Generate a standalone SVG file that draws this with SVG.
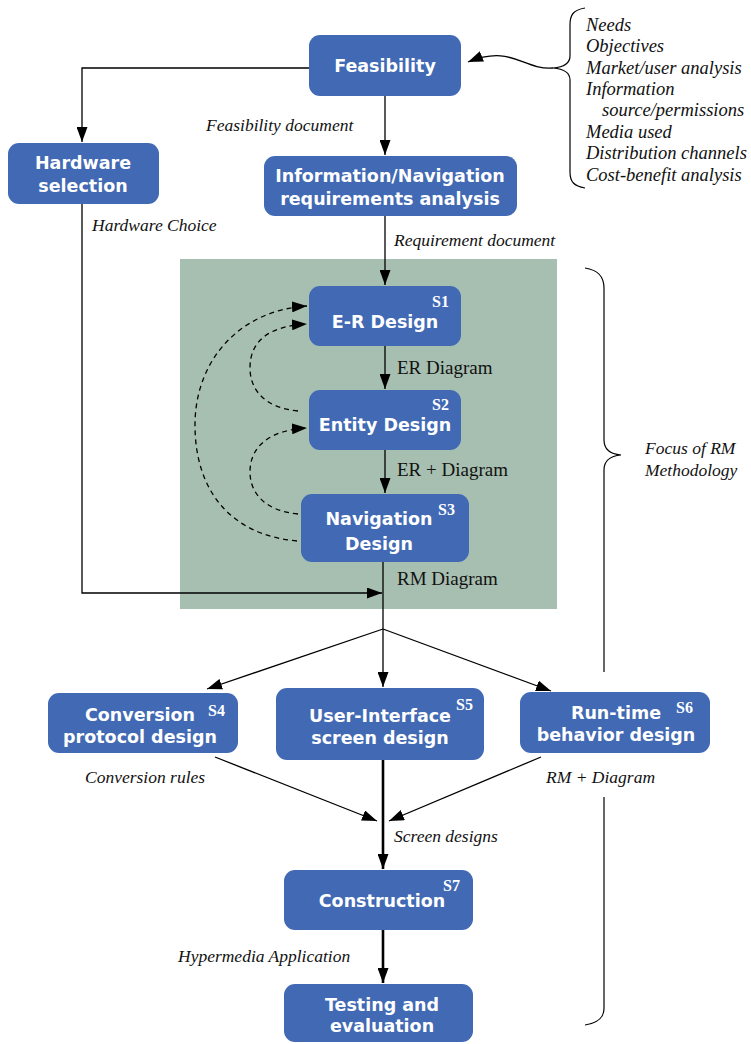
<svg xmlns="http://www.w3.org/2000/svg" width="751" height="1044" viewBox="0 0 751 1044">
  <defs>
    <marker id="arrow" markerUnits="userSpaceOnUse" markerWidth="15" markerHeight="11" refX="15" refY="5.5" orient="auto">
      <path d="M0,0 L15,5.5 L0,11 z" fill="#000"/>
    </marker>
    <style>
      .box { fill: #4169B4; }
      .bt { font-family: "DejaVu Sans", Verdana, sans-serif; font-weight: bold; font-size: 17.5px; fill: #fff; text-anchor: middle; }
      .st { font-family: "Liberation Serif", "Times New Roman", serif; font-weight: bold; font-size: 16px; fill: #fff; }
      .it { font-family: "Liberation Serif", "Times New Roman", serif; font-style: italic; font-size: 17.5px; fill: #111; }
      .lst { font-size: 18.5px; }
      .up { font-family: "Liberation Serif", "Times New Roman", serif; font-size: 19px; fill: #111; }
      .ln { fill: none; stroke: #000; stroke-width: 1.3; }
      .thick { fill: none; stroke: #000; stroke-width: 2.6; }
      .dash { fill: none; stroke: #000; stroke-width: 1.3; stroke-dasharray: 5 4; }
      .brace { fill: none; stroke: #000; stroke-width: 1.2; }
    </style>
  </defs>

  <rect x="0" y="0" width="751" height="1044" fill="#fff"/>

  <!-- RM methodology area -->
  <rect x="180" y="259" width="377" height="350" fill="#A7BFB0"/>

  <!-- connectors -->
  <g id="connectors">
    <path class="ln" d="M385,96 L385,155" marker-end="url(#arrow)"/>
    <path class="ln" d="M309,68 L82,68 L82,142" marker-end="url(#arrow)"/>
    <path class="ln" d="M82,204 L82,593 L382,593" marker-end="url(#arrow)"/>
    <path class="ln" d="M385,216 L385,285" marker-end="url(#arrow)"/>
    <path class="ln" d="M385,346 L385,389" marker-end="url(#arrow)"/>
    <path class="ln" d="M385,450 L385,493" marker-end="url(#arrow)"/>
    <path class="ln" d="M383,562 L383,629"/>
    <path class="ln" d="M383,629 L207,689" marker-end="url(#arrow)"/>
    <path class="ln" d="M383,629 L383,687" marker-end="url(#arrow)"/>
    <path class="ln" d="M383,629 L551,691" marker-end="url(#arrow)"/>
    <path class="ln" d="M215,757 L377,821" marker-end="url(#arrow)"/>
    <path class="ln" d="M541,757 L389,821" marker-end="url(#arrow)"/>
    <path class="thick" d="M383,760 L383,869" marker-end="url(#arrow)"/>
    <path class="thick" d="M383,930 L383,983" marker-end="url(#arrow)"/>
    <!-- feedback loops -->
    <path class="dash" d="M297,541 C230,535 195,490 195,425 C195,360 240,310 307,306" marker-end="url(#arrow)"/>
    <path class="dash" d="M298,411 C265,408 250,390 250,368 C250,340 270,326 307,324" marker-end="url(#arrow)"/>
    <path class="dash" d="M298,514 C265,511 250,493 250,472 C250,446 270,430 307,428" marker-end="url(#arrow)"/>
    <!-- inputs to feasibility -->
    <path class="ln" d="M553,68 C522,70 512,44 468,62" marker-end="url(#arrow)"/>
  </g>

  <!-- braces -->
  <path class="brace" d="M585,8 C573,10 570,15 570,25 L570,56 C570,63 565,67 553,68 C565,69 570,73 570,80 L570,172 C570,182 574,186 585,188"/>
  <path class="brace" d="M585,268 C598,270 604,276 604,288 L604,440 C604,450 610,454 621,455 C610,456 604,460 604,470 L604,672 M604,797 L604,1008 C604,1018 598,1023 585,1025"/>

  <!-- connector labels -->
  <g id="labels">
    <text class="it" x="206" y="131">Feasibility document</text>
    <text class="it" x="92" y="231">Hardware Choice</text>
    <text class="it" x="394" y="246">Requirement document</text>
    <text class="up" x="397" y="374">ER Diagram</text>
    <text class="up" x="397" y="476">ER + Diagram</text>
    <text class="up" x="397" y="585">RM Diagram</text>
    <text class="it" x="85" y="783">Conversion rules</text>
    <text class="it" x="546" y="783">RM + Diagram</text>
    <text class="it" x="394" y="842">Screen designs</text>
    <text class="it" x="178" y="962">Hypermedia Application</text>
    <text class="it" x="645" y="454">Focus of RM</text>
    <text class="it" x="645" y="476">Methodology</text>
  </g>

  <g id="feasibility-inputs">
    <text class="it lst" x="586" y="31">Needs</text>
    <text class="it lst" x="586" y="52">Objectives</text>
    <text class="it lst" x="586" y="74">Market/user analysis</text>
    <text class="it lst" x="586" y="95">Information</text>
    <text class="it lst" x="602" y="116">source/permissions</text>
    <text class="it lst" x="586" y="138">Media used</text>
    <text class="it lst" x="586" y="159">Distribution channels</text>
    <text class="it lst" x="586" y="181">Cost-benefit analysis</text>
  </g>

  <!-- nodes -->
  <g id="feasibility">
    <rect class="box" x="309" y="35" width="152" height="61" rx="11"/>
    <text class="bt" x="385" y="72">Feasibility</text>
  </g>
  <g id="hardware">
    <rect class="box" x="8" y="143" width="151" height="61" rx="11"/>
    <text class="bt" x="83" y="169">Hardware</text>
    <text class="bt" x="83" y="192">selection</text>
  </g>
  <g id="requirements">
    <rect class="box" x="264" y="156" width="253" height="60" rx="11"/>
    <text class="bt" x="390" y="182">Information/Navigation</text>
    <text class="bt" x="390" y="205">requirements analysis</text>
  </g>
  <g id="s1">
    <rect class="box" x="309" y="286" width="152" height="60" rx="11"/>
    <text class="st" x="432" y="307">S1</text>
    <text class="bt" x="385" y="328">E-R Design</text>
  </g>
  <g id="s2">
    <rect class="box" x="309" y="390" width="152" height="60" rx="11"/>
    <text class="st" x="432" y="410">S2</text>
    <text class="bt" x="385" y="431">Entity Design</text>
  </g>
  <g id="s3">
    <rect class="box" x="301" y="494" width="168" height="68" rx="11"/>
    <text class="st" x="438" y="515">S3</text>
    <text class="bt" x="379" y="525">Navigation</text>
    <text class="bt" x="379" y="550">Design</text>
  </g>
  <g id="s4">
    <rect class="box" x="48" y="693" width="190" height="60" rx="11"/>
    <text class="st" x="208" y="716">S4</text>
    <text class="bt" x="140" y="721">Conversion</text>
    <text class="bt" x="140" y="743">protocol design</text>
  </g>
  <g id="s5">
    <rect class="box" x="276" y="688" width="208" height="72" rx="11"/>
    <text class="st" x="456" y="710">S5</text>
    <text class="bt" x="380" y="722">User-Interface</text>
    <text class="bt" x="380" y="744">screen design</text>
  </g>
  <g id="s6">
    <rect class="box" x="520" y="692" width="190" height="61" rx="11"/>
    <text class="st" x="676" y="713">S6</text>
    <text class="bt" x="616" y="719">Run-time</text>
    <text class="bt" x="616" y="741">behavior design</text>
  </g>
  <g id="s7">
    <rect class="box" x="284" y="870" width="189" height="60" rx="11"/>
    <text class="st" x="443" y="891">S7</text>
    <text class="bt" x="382" y="907">Construction</text>
  </g>
  <g id="testing">
    <rect class="box" x="284" y="984" width="189" height="58" rx="11"/>
    <text class="bt" x="382" y="1011">Testing and</text>
    <text class="bt" x="382" y="1032">evaluation</text>
  </g>
</svg>
